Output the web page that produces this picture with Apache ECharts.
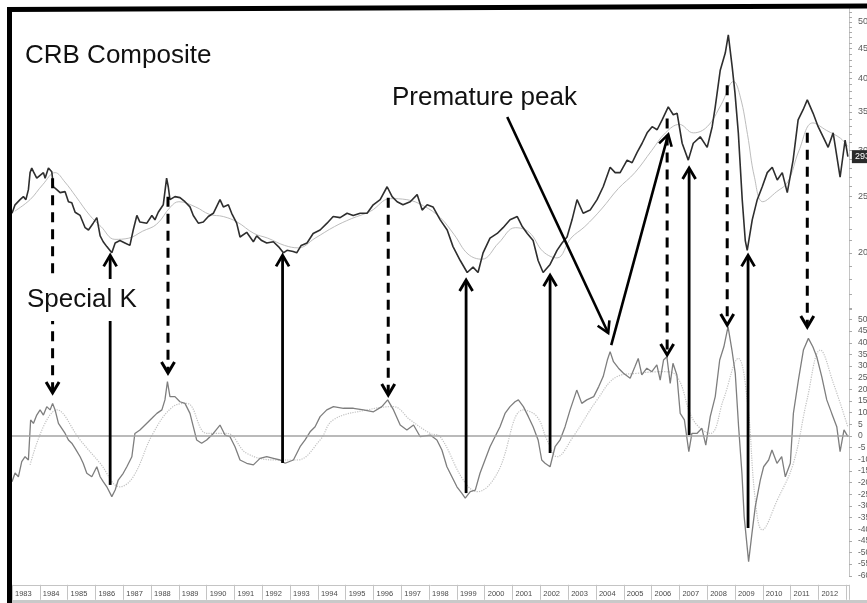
<!DOCTYPE html>
<html>
<head>
<meta charset="utf-8">
<script src="https://cdn.jsdelivr.net/npm/echarts@6.0.0/dist/echarts.min.js"></script>
<style>
html,body{margin:0;padding:0;background:#fff;}
#chart{width:867px;height:603px;}
</style>
</head>
<body>
<div id="chart"></div>
<script>
// ---- data ----
// CRB Composite (sampled) : [year, index value]
const crbPoints = [
[1983.00,234],[1983.11,242],[1983.29,247],[1983.41,250],[1983.50,247],[1983.59,257],[1983.65,275],[1983.71,280],[1983.77,276],[1983.89,269],
[1984.01,272],[1984.13,275],[1984.19,269],[1984.31,280],[1984.37,281],[1984.43,276],[1984.49,260],[1984.61,257],[1984.73,254],[1984.91,255],
[1985.03,245],[1985.15,244],[1985.27,235],[1985.45,232],[1985.63,221],[1985.75,219],[1985.92,225],[1986.05,230],[1986.17,214],[1986.28,209],
[1986.41,205],[1986.59,200],[1986.71,208],[1986.88,210],[1987.06,208],[1987.24,206],[1987.36,219],[1987.49,232],[1987.60,226],[1987.85,225],
[1988.03,232],[1988.14,228],[1988.26,235],[1988.44,242],[1988.56,269],[1988.62,260],[1988.68,247],[1988.86,250],[1989.04,249],[1989.22,245],
[1989.40,240],[1989.52,232],[1989.70,225],[1989.88,226],[1990.06,231],[1990.24,234],[1990.48,247],[1990.60,240],[1990.78,242],[1990.90,234],
[1991.08,225],[1991.20,213],[1991.44,217],[1991.68,209],[1991.80,214],[1991.98,210],[1992.16,208],[1992.40,209],[1992.58,205],[1992.76,200],
[1992.89,202],[1993.11,201],[1993.24,200],[1993.40,206],[1993.61,208],[1993.83,216],[1994.08,219],[1994.33,225],[1994.55,231],[1994.80,230],
[1995.05,234],[1995.27,232],[1995.52,234],[1995.77,234],[1995.99,242],[1996.24,247],[1996.49,260],[1996.67,250],[1996.85,245],[1997.06,242],
[1997.32,245],[1997.57,252],[1997.75,237],[1997.93,242],[1998.14,240],[1998.40,228],[1998.65,219],[1998.86,205],[1999.12,194],[1999.37,185],
[1999.58,189],[1999.76,185],[1999.94,200],[2000.19,212],[2000.45,216],[2000.66,221],[2000.91,228],[2001.17,231],[2001.35,222],[2001.53,216],
[2001.74,210],[2001.92,194],[2002.10,185],[2002.35,191],[2002.60,202],[2002.78,208],[2002.96,213],[2003.14,228],[2003.32,247],[2003.54,234],
[2003.79,237],[2004.04,247],[2004.26,260],[2004.51,281],[2004.69,275],[2004.87,275],[2005.12,289],[2005.30,286],[2005.48,298],[2005.66,309],
[2005.84,322],[2006.02,330],[2006.20,326],[2006.38,339],[2006.60,357],[2006.78,346],[2006.92,348],[2007.10,309],[2007.32,289],[2007.50,309],
[2007.75,317],[2008.00,304],[2008.18,330],[2008.29,357],[2008.47,413],[2008.65,442],[2008.76,475],[2008.90,418],[2009.00,377],[2009.12,322],
[2009.26,247],[2009.37,210],[2009.44,202],[2009.62,228],[2009.80,247],[2009.98,260],[2010.16,275],[2010.34,281],[2010.52,267],[2010.70,275],
[2010.88,254],[2011.09,289],[2011.27,339],[2011.45,353],[2011.60,367],[2011.81,348],[2011.99,330],[2012.17,317],[2012.35,304],[2012.53,322],
[2012.78,270],[2012.96,313],[2013.06,293]
];

// CRB moving average (thin grey line)
const crbAverage = [
[1983.10,236],[1983.65,247],[1984.10,262],[1984.55,275],[1984.90,265],[1985.30,250],[1985.80,232],[1986.20,222],[1986.70,211],[1987.20,212],
[1987.70,218],[1988.20,224],[1988.70,240],[1989.00,245],[1989.60,240],[1990.10,233],[1990.60,231],[1991.10,226],[1991.70,216],[1992.20,212],
[1992.80,206],[1993.30,204],[1993.90,212],[1994.60,222],[1995.20,229],[1995.90,236],[1996.60,248],[1997.20,247],[1997.80,241],[1998.40,230],
[1998.90,215],[1999.40,199],[1999.90,195],[2000.50,208],[2001.10,221],[2001.60,217],[2002.10,201],[2002.60,196],[2003.10,212],[2003.60,222],
[2004.20,238],[2004.80,258],[2005.40,275],[2006.00,300],[2006.50,322],[2007.00,333],[2007.50,322],[2008.00,330],[2008.50,360],[2008.95,395],
[2009.20,370],[2009.45,320],[2009.70,270],[2010.00,245],[2010.50,255],[2010.90,265],[2011.30,300],[2011.80,335],[2012.30,325],[2012.80,315],
[2013.06,305]
];

// Special K indicator : [year, value]
const specialK = [
[1983.00,-19.6],[1983.11,-15.9],[1983.23,-17.5],[1983.35,-11],[1983.47,-8.9],[1983.59,-10.3],[1983.67,6.9],[1983.77,5.4],[1983.89,9],[1984.01,11.2],
[1984.13,9],[1984.25,12.6],[1984.37,11.2],[1984.46,14],[1984.55,11.2],[1984.67,5.4],[1984.79,3.3],[1984.91,1.1],[1985.03,-1.7],[1985.15,-3.1],
[1985.27,-5.3],[1985.45,-8.9],[1985.56,-11.7],[1985.69,-16],[1985.87,-17.5],[1986.05,-13.2],[1986.17,-17.5],[1986.28,-19.6],[1986.41,-21.8],[1986.59,-26],
[1986.71,-23.2],[1986.82,-18.9],[1987.00,-16],[1987.13,-13.2],[1987.31,-8.9],[1987.42,1.1],[1987.60,2.6],[1987.84,5.4],[1988.03,7.6],[1988.21,9.7],
[1988.39,11.2],[1988.50,15.5],[1988.59,23.3],[1988.68,16.9],[1988.86,16.9],[1989.04,14.7],[1989.22,14],[1989.40,9.7],[1989.52,4],[1989.64,-1.7],
[1989.82,-3.1],[1990.00,-1.7],[1990.24,1.1],[1990.48,4.7],[1990.66,0.4],[1990.84,-0.3],[1991.02,-4.6],[1991.20,-10.3],[1991.44,-11.7],[1991.68,-12.4],
[1991.92,-9.6],[1992.16,-8.9],[1992.40,-9.6],[1992.64,-10.3],[1992.82,-11.7],[1993.12,-10.3],[1993.36,-4.6],[1993.54,-1.7],[1993.72,1.8],[1993.90,4],
[1994.08,8.3],[1994.32,11.2],[1994.56,12.6],[1994.92,11.9],[1995.28,11.9],[1995.64,11.2],[1996.00,10.4],[1996.30,12.6],[1996.51,15.5],[1996.72,11.2],
[1996.96,4.7],[1997.20,2.6],[1997.44,4.7],[1997.68,-0.3],[1998.04,0.4],[1998.28,-1.7],[1998.46,-6],[1998.64,-13.2],[1998.82,-17.5],[1999.00,-21.8],
[1999.18,-24.6],[1999.30,-26.7],[1999.48,-23.9],[1999.66,-23.2],[1999.83,-16],[2000.01,-10.3],[2000.19,-4.6],[2000.37,-0.3],[2000.55,4],[2000.73,9.7],
[2000.91,12.6],[2001.09,14.7],[2001.21,15.5],[2001.39,12.6],[2001.57,8.3],[2001.74,4],[2001.92,-1.7],[2002.05,-10.3],[2002.17,-11.7],[2002.35,-13.2],
[2002.53,-4.6],[2002.71,-1.7],[2002.89,4],[2003.07,11.2],[2003.31,19.7],[2003.49,14],[2003.67,15.5],[2003.92,16.9],[2004.10,21.2],[2004.26,25.5],
[2004.41,32.6],[2004.51,36.2],[2004.63,31.9],[2004.81,29.1],[2004.99,26.9],[2005.23,24.8],[2005.40,29.7],[2005.52,33.3],[2005.65,26.2],[2005.83,29.1],
[2006.01,27.6],[2006.19,30.5],[2006.31,24],[2006.43,32.6],[2006.55,34],[2006.67,22.6],[2006.77,31.2],[2006.91,26.2],[2007.03,9.7],[2007.18,6.9],
[2007.34,-6.7],[2007.45,1.1],[2007.63,1.1],[2007.81,3.3],[2007.95,-3.9],[2008.11,8.3],[2008.29,16.9],[2008.45,32.6],[2008.60,38.3],[2008.75,46.9],
[2008.89,36.9],[2009.01,26.9],[2009.13,4],[2009.25,-16],[2009.33,-34.6],[2009.49,-53.9],[2009.61,-41.8],[2009.73,-30.3],[2009.91,-18.9],[2010.03,-13.2],
[2010.21,-10.3],[2010.33,-6],[2010.51,-11.7],[2010.68,-8.9],[2010.81,-17.5],[2010.99,-11.7],[2011.10,9.7],[2011.28,24],[2011.46,36.9],[2011.64,41.9],
[2011.80,38.3],[2011.94,34],[2012.12,25.5],[2012.30,15.5],[2012.48,9.7],[2012.66,4],[2012.78,-6.7],[2012.92,2.6],[2013.06,-0.3]
];

// Special K signal line (dotted grey)
const specialKAverage = [
[1983.65,-12.4],[1984.62,11.2],[1985.45,-1.7],[1986.17,-11.7],[1986.88,-21.8],[1987.36,-17.5],[1988.07,1.1],[1988.79,12.6],[1989.29,14],[1990.01,1.1],
[1990.73,1.1],[1991.45,-7.5],[1992.53,-10.3],[1993.25,-10.3],[1994.08,-1.7],[1994.55,6.9],[1995.77,11.2],[1996.71,12.6],[1997.32,6.9],[1998.04,1.1],
[1998.40,-0.3],[1999.23,-18.9],[1999.73,-23.9],[2000.45,-16],[2001.39,11.2],[2001.88,8.3],[2002.24,-1.7],[2002.60,-8.9],[2003.18,-0.3],[2004.04,15.5],
[2004.76,25.5],[2005.48,26.9],[2006.42,27.6],[2006.92,25.5],[2007.50,6.9],[2008.11,1.1],[2008.58,15.5],[2009.12,33.3],[2009.44,15.5],[2009.73,-27.5],
[2009.98,-40.3],[2010.52,-27.5],[2011.10,-11.7],[2011.59,15.5],[2012.07,36.9],[2012.54,22.6],[2013.06,3.9]
];

// right-hand price scale
const priceLabels = [200, 250, 300, 350, 400, 450, 500];
const priceTicks = [160,170,180,190,200,210,220,230,240,250,260,270,280,290,300,310,320,330,340,350,360,370,380,390,400,410,420,430,440,450,460,470,480,490,500,510,520];

// annotation arrows: peaks (dashed, price -> Special K) and troughs (solid, Special K -> price)
const peakArrows = [
  {year:1984.46, price:269, sk:18.5},
  {year:1988.61, price:250, sk:27},
  {year:1996.53, price:249, sk:17.6},
  {year:2006.56, price:341, sk:34.8},
  {year:2008.72, price:389, sk:47.6},
  {year:2011.60, price:322, sk:46.8}
];
const troughArrows = [
  {year:1986.53, sk:-21, price:198},
  {year:1992.73, sk:-11.6, price:198},
  {year:1999.33, sk:-24.5, price:179.5},
  {year:2002.35, sk:-7.3, price:183},
  {year:2007.35, sk:0.4, price:280},
  {year:2009.47, sk:-39.5, price:198}
];
// "Premature peak" pointers
const prematureToSK = {fromYear:2000.81, fromPrice:343, toYear:2004.44, toSK:44.2};
const prematureToPrice = {fromYear:2004.55, fromSK:39, toYear:2006.60, toPrice:320};

// ---- chart ----
const FONT = '"Liberation Sans", Arial, Helvetica, sans-serif';
const chart = echarts.init(document.getElementById('chart'), null, {renderer:'canvas'});

const option = {
  animation: false,
  backgroundColor: '#ffffff',
  title: {
    text: 'CRB Composite', left: 20, top: 38,
    textStyle: {fontFamily: FONT, fontSize: 26, fontWeight: 'normal', color: '#111'}
  },
  grid: [
    {left: 12, right: 18, top: 8, height: 302, outerBoundsMode: 'none', containLabel: false},
    {left: 12, right: 18, top: 307.85, height: 267.95, outerBoundsMode: 'none', containLabel: false}
  ],
  xAxis: [
    {gridIndex: 0, type: 'value', min: 1983, max: 2013.1, show: false},
    {gridIndex: 1, type: 'value', min: 1983, max: 2013.1, interval: 1, offset: 9,
      axisLine: {show: true, onZero: false, lineStyle: {color: '#c4c4c4', width: 1}},
      axisTick: {show: true, length: 15, lineStyle: {color: '#c4c4c4'}},
      splitLine: {show: false},
      axisLabel: {show: true, align: 'left', margin: 5, padding: [0,0,0,3], fontSize: 7.5, color: '#4a4a4a', fontFamily: FONT,
        formatter: function (v) { return v >= 2013 ? '' : String(v); }}
    }
  ],
  yAxis: [
    {gridIndex: 0, type: 'log', logBase: 10, position: 'right', min: 159.4, max: 528.6,
      axisLine: {show: true, lineStyle: {color: '#c4c4c4'}},
      axisTick: {show: true, length: 3, customValues: priceTicks, lineStyle: {color: '#aaa'}},
      axisLabel: {show: true, customValues: priceLabels, margin: 9, fontSize: 9, color: '#5a5a5a', fontFamily: FONT},
      splitLine: {show: false}
    },
    {gridIndex: 1, type: 'value', position: 'right', min: -60, max: 55, interval: 5,
      axisLine: {show: true, lineStyle: {color: '#c4c4c4'}},
      axisTick: {show: true, length: 3, lineStyle: {color: '#aaa'}},
      axisLabel: {show: true, margin: 9, fontSize: 8.5, color: '#5a5a5a', fontFamily: FONT,
        formatter: function (v) { return v > 50 ? '' : String(v); }},
      splitLine: {show: false}
    }
  ],
  series: [
    {name: 'CRB average', type: 'line', xAxisIndex: 0, yAxisIndex: 0, data: crbAverage, symbol: 'none', smooth: 0.4,
      lineStyle: {color: '#bdbdbd', width: 1}, z: 2, silent: true},
    {name: 'CRB Composite', type: 'line', xAxisIndex: 0, yAxisIndex: 0, data: crbPoints, symbol: 'none',
      lineStyle: {color: '#2e2e2e', width: 1.6}, z: 3, silent: true,
      endLabel: {show: true, formatter: function (p) { return String(Math.round(p.value[1])); },
        backgroundColor: '#2a2a2a', color: '#fff', fontSize: 9, padding: [2, 3], distance: 4, fontFamily: FONT}},
    {name: 'Special K average', type: 'line', xAxisIndex: 1, yAxisIndex: 1, data: specialKAverage, symbol: 'none', smooth: 0.4,
      lineStyle: {color: '#c2c2c2', width: 1.2, type: 'dotted'}, z: 2, silent: true},
    {name: 'Special K', type: 'line', xAxisIndex: 1, yAxisIndex: 1, data: specialK, symbol: 'none',
      lineStyle: {color: '#7e7e7e', width: 1.3}, z: 3, silent: true,
      markLine: {silent: true, symbol: 'none', label: {show: false}, animation: false,
        lineStyle: {color: '#a3a3a3', width: 1.5, type: 'solid'}, data: [{yAxis: 0}]}}
  ]
};
chart.setOption(option);

// ---- annotations positioned through the chart's own scales ----
const toPx = function (grid, x, y) { return chart.convertToPixel({gridIndex: grid}, [x, y]); };
const els = [];
function seg(a, b, w, dash) {
  return {type: 'line', silent: true, z: 100,
    shape: {x1: a[0], y1: a[1], x2: b[0], y2: b[1]},
    style: {stroke: '#000', lineWidth: w, lineDash: dash || null, lineCap: 'butt'}};
}
function head(a, b, w) {
  const dx = b[0] - a[0], dy = b[1] - a[1];
  const len = Math.sqrt(dx * dx + dy * dy);
  const ux = dx / len, uy = dy / len, nx = -uy, ny = ux;
  const L = 11, W = 6.5;
  return {type: 'polyline', silent: true, z: 101,
    shape: {points: [[b[0] - ux * L + nx * W, b[1] - uy * L + ny * W], [b[0], b[1]], [b[0] - ux * L - nx * W, b[1] - uy * L - ny * W]]},
    style: {stroke: '#000', lineWidth: w, fill: null, lineJoin: 'miter'}};
}
peakArrows.forEach(function (a) {
  const p0 = toPx(0, a.year, a.price), p1 = toPx(1, a.year, a.sk);
  const p1b = [p1[0], p1[1] - 3];
  els.push(seg(p0, p1b, 3, [10, 7]));
  els.push(head(p0, p1, 3));
});
troughArrows.forEach(function (a) {
  const p0 = toPx(1, a.year, a.sk), p1 = toPx(0, a.year, a.price);
  els.push(seg(p0, [p1[0], p1[1] + 2], 2.8));
  els.push(head(p0, p1, 2.8));
});
(function () {
  const a0 = toPx(0, prematureToSK.fromYear, prematureToSK.fromPrice);
  const a1 = toPx(1, prematureToSK.toYear, prematureToSK.toSK);
  els.push(seg(a0, a1, 2.6));
  els.push(head(a0, a1, 2.6));
  const b0 = toPx(1, prematureToPrice.fromYear, prematureToPrice.fromSK);
  const b1 = toPx(0, prematureToPrice.toYear, prematureToPrice.toPrice);
  els.push(seg(b0, b1, 2.6));
  els.push(head(b0, b1, 2.6));
})();

// text labels
els.push({type: 'text', x: 17, y: 300, z: 110, silent: true,
  style: {text: 'Special K', font: '26px ' + FONT, fill: '#111', backgroundColor: '#ffffff',
    padding: [8, 10, 8, 10], verticalAlign: 'middle', align: 'left'}});
els.push({type: 'text', x: 392, y: 98, z: 110, silent: true,
  style: {text: 'Premature peak', font: '26px ' + FONT, fill: '#111', verticalAlign: 'middle', align: 'left'}});

// scanned frame (thick black border top and left)
els.push({type: 'polygon', silent: true, z: 120,
  shape: {points: [[7, 7], [867, 3.5], [867, 8.5], [7, 12]]}, style: {fill: '#000'}});
els.push({type: 'rect', silent: true, z: 120,
  shape: {x: 7, y: 7, width: 5, height: 596}, style: {fill: '#000'}});
els.push({type: 'rect', silent: true, z: 120,
  shape: {x: 12, y: 600, width: 855, height: 3}, style: {fill: '#c9c9c9'}});

chart.setOption({graphic: {elements: els}});
</script>
</body>
</html>
